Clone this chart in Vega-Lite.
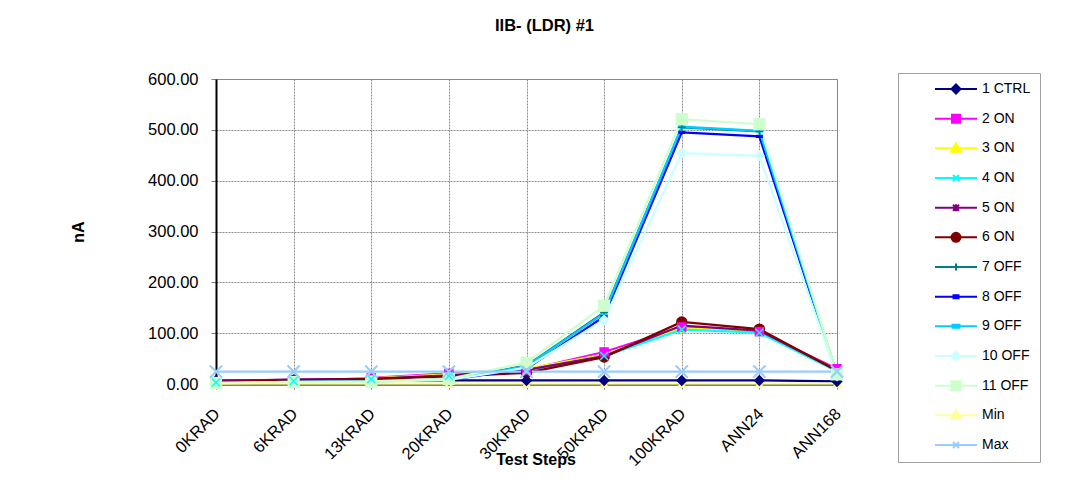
{
  "$schema": "https://vega.github.io/schema/vega-lite/v6.json",
  "width": 621,
  "height": 305,
  "autosize": {"type": "none"},
  "padding": {"left": 216, "top": 79, "right": 243, "bottom": 117},
  "background": "white",
  "title": {"text": "IIB- (LDR) #1", "fontSize": 16.5, "fontWeight": "bold", "font": "Liberation Sans", "anchor": "middle", "frame": "group", "offset": 37, "dx": 18, "color": "#000000"},
  "config": {
    "font": "Liberation Sans",
    "view": {"stroke": "#808080", "strokeWidth": 1},
    "axis": {"labelColor": "#000000", "titleColor": "#000000", "domain": true, "domainColor": "#000000", "domainWidth": 2, "tickColor": "#808080", "gridColor": "#8c8c8c", "gridDash": [2, 1], "gridWidth": 1}
  },
  "data": {"values": [
    {"series": "1 CTRL", "step": "0KRAD", "value": 7}, {"series": "1 CTRL", "step": "6KRAD", "value": 7}, {"series": "1 CTRL", "step": "13KRAD", "value": 7}, {"series": "1 CTRL", "step": "20KRAD", "value": 7}, {"series": "1 CTRL", "step": "30KRAD", "value": 7}, {"series": "1 CTRL", "step": "50KRAD", "value": 7}, {"series": "1 CTRL", "step": "100KRAD", "value": 7}, {"series": "1 CTRL", "step": "ANN24", "value": 7}, {"series": "1 CTRL", "step": "ANN168", "value": 5},
    {"series": "2 ON", "step": "0KRAD", "value": 3}, {"series": "2 ON", "step": "6KRAD", "value": 5}, {"series": "2 ON", "step": "13KRAD", "value": 12}, {"series": "2 ON", "step": "20KRAD", "value": 21}, {"series": "2 ON", "step": "30KRAD", "value": 28}, {"series": "2 ON", "step": "50KRAD", "value": 63}, {"series": "2 ON", "step": "100KRAD", "value": 112}, {"series": "2 ON", "step": "ANN24", "value": 103}, {"series": "2 ON", "step": "ANN168", "value": 30},
    {"series": "3 ON", "step": "0KRAD", "value": 2}, {"series": "3 ON", "step": "6KRAD", "value": 6}, {"series": "3 ON", "step": "13KRAD", "value": 11}, {"series": "3 ON", "step": "20KRAD", "value": 19}, {"series": "3 ON", "step": "30KRAD", "value": 30}, {"series": "3 ON", "step": "50KRAD", "value": 58}, {"series": "3 ON", "step": "100KRAD", "value": 110}, {"series": "3 ON", "step": "ANN24", "value": 104}, {"series": "3 ON", "step": "ANN168", "value": 27},
    {"series": "4 ON", "step": "0KRAD", "value": 3}, {"series": "4 ON", "step": "6KRAD", "value": 6}, {"series": "4 ON", "step": "13KRAD", "value": 10}, {"series": "4 ON", "step": "20KRAD", "value": 16}, {"series": "4 ON", "step": "30KRAD", "value": 27}, {"series": "4 ON", "step": "50KRAD", "value": 55}, {"series": "4 ON", "step": "100KRAD", "value": 107}, {"series": "4 ON", "step": "ANN24", "value": 101}, {"series": "4 ON", "step": "ANN168", "value": 25},
    {"series": "5 ON", "step": "0KRAD", "value": 5}, {"series": "5 ON", "step": "6KRAD", "value": 9}, {"series": "5 ON", "step": "13KRAD", "value": 10}, {"series": "5 ON", "step": "20KRAD", "value": 17}, {"series": "5 ON", "step": "30KRAD", "value": 28}, {"series": "5 ON", "step": "50KRAD", "value": 55}, {"series": "5 ON", "step": "100KRAD", "value": 115}, {"series": "5 ON", "step": "ANN24", "value": 105}, {"series": "5 ON", "step": "ANN168", "value": 27},
    {"series": "6 ON", "step": "0KRAD", "value": 3}, {"series": "6 ON", "step": "6KRAD", "value": 7}, {"series": "6 ON", "step": "13KRAD", "value": 10}, {"series": "6 ON", "step": "20KRAD", "value": 15}, {"series": "6 ON", "step": "30KRAD", "value": 22}, {"series": "6 ON", "step": "50KRAD", "value": 53}, {"series": "6 ON", "step": "100KRAD", "value": 122}, {"series": "6 ON", "step": "ANN24", "value": 108}, {"series": "6 ON", "step": "ANN168", "value": 26},
    {"series": "7 OFF", "step": "0KRAD", "value": 2}, {"series": "7 OFF", "step": "6KRAD", "value": 4}, {"series": "7 OFF", "step": "13KRAD", "value": 5}, {"series": "7 OFF", "step": "20KRAD", "value": 9}, {"series": "7 OFF", "step": "30KRAD", "value": 36}, {"series": "7 OFF", "step": "50KRAD", "value": 141}, {"series": "7 OFF", "step": "100KRAD", "value": 505}, {"series": "7 OFF", "step": "ANN24", "value": 497}, {"series": "7 OFF", "step": "ANN168", "value": 18},
    {"series": "8 OFF", "step": "0KRAD", "value": 2}, {"series": "8 OFF", "step": "6KRAD", "value": 4}, {"series": "8 OFF", "step": "13KRAD", "value": 5}, {"series": "8 OFF", "step": "20KRAD", "value": 8}, {"series": "8 OFF", "step": "30KRAD", "value": 30}, {"series": "8 OFF", "step": "50KRAD", "value": 133}, {"series": "8 OFF", "step": "100KRAD", "value": 495}, {"series": "8 OFF", "step": "ANN24", "value": 487}, {"series": "8 OFF", "step": "ANN168", "value": 17},
    {"series": "9 OFF", "step": "0KRAD", "value": 2}, {"series": "9 OFF", "step": "6KRAD", "value": 4}, {"series": "9 OFF", "step": "13KRAD", "value": 5}, {"series": "9 OFF", "step": "20KRAD", "value": 9}, {"series": "9 OFF", "step": "30KRAD", "value": 35}, {"series": "9 OFF", "step": "50KRAD", "value": 139}, {"series": "9 OFF", "step": "100KRAD", "value": 506}, {"series": "9 OFF", "step": "ANN24", "value": 498}, {"series": "9 OFF", "step": "ANN168", "value": 18},
    {"series": "10 OFF", "step": "0KRAD", "value": 1}, {"series": "10 OFF", "step": "6KRAD", "value": 3}, {"series": "10 OFF", "step": "13KRAD", "value": 4}, {"series": "10 OFF", "step": "20KRAD", "value": 8}, {"series": "10 OFF", "step": "30KRAD", "value": 32}, {"series": "10 OFF", "step": "50KRAD", "value": 126}, {"series": "10 OFF", "step": "100KRAD", "value": 454}, {"series": "10 OFF", "step": "ANN24", "value": 449}, {"series": "10 OFF", "step": "ANN168", "value": 16},
    {"series": "11 OFF", "step": "0KRAD", "value": 2}, {"series": "11 OFF", "step": "6KRAD", "value": 4}, {"series": "11 OFF", "step": "13KRAD", "value": 5}, {"series": "11 OFF", "step": "20KRAD", "value": 10}, {"series": "11 OFF", "step": "30KRAD", "value": 42}, {"series": "11 OFF", "step": "50KRAD", "value": 154}, {"series": "11 OFF", "step": "100KRAD", "value": 521}, {"series": "11 OFF", "step": "ANN24", "value": 511}, {"series": "11 OFF", "step": "ANN168", "value": 19},
    {"series": "Min", "step": "0KRAD", "value": 0.5}, {"series": "Min", "step": "6KRAD", "value": 0.5}, {"series": "Min", "step": "13KRAD", "value": 0.5}, {"series": "Min", "step": "20KRAD", "value": 0.5}, {"series": "Min", "step": "30KRAD", "value": 0.5}, {"series": "Min", "step": "50KRAD", "value": 0.5}, {"series": "Min", "step": "100KRAD", "value": 0.5}, {"series": "Min", "step": "ANN24", "value": 0.5}, {"series": "Min", "step": "ANN168", "value": 0.5},
    {"series": "Max", "step": "0KRAD", "value": 24.5}, {"series": "Max", "step": "6KRAD", "value": 24.5}, {"series": "Max", "step": "13KRAD", "value": 24.5}, {"series": "Max", "step": "20KRAD", "value": 24.5}, {"series": "Max", "step": "30KRAD", "value": 24.5}, {"series": "Max", "step": "50KRAD", "value": 24.5}, {"series": "Max", "step": "100KRAD", "value": 24.5}, {"series": "Max", "step": "ANN24", "value": 24.5}, {"series": "Max", "step": "ANN168", "value": 24.5}
  ]},
  "encoding": {
    "x": {"field": "step", "type": "ordinal",
      "scale": {"type": "point", "padding": 0, "domain": ["0KRAD", "6KRAD", "13KRAD", "20KRAD", "30KRAD", "50KRAD", "100KRAD", "ANN24", "ANN168"]},
      "axis": {"title": "Test Steps", "titleFontSize": 16, "titleFontWeight": "bold", "titleX": 319.5, "titleY": 75, "titleBaseline": "middle", "titleAlign": "center",
        "labelAngle": -45, "labelAlign": "right", "labelBaseline": "middle", "labelFontSize": 16.5, "labelPadding": 22, "labelOffset": 1, "labelOverlap": false, "labelFlush": false, "tickSize": 5, "grid": true,
        "gridOpacity": {"condition": {"test": "datum.value === '0KRAD'", "value": 0}, "value": 1}}},
    "y": {"field": "value", "type": "quantitative",
      "scale": {"domain": [0, 600], "nice": false, "zero": true},
      "axis": {"title": "nA", "values": [0, 100, 200, 300, 400, 500, 600], "format": ".2f", "labelFontSize": 16.5, "labelPadding": 13, "tickSize": 5,
        "titleFontSize": 16, "titleFontWeight": "bold", "titleX": -138, "titleY": 152.5, "titleAngle": -90, "titleBaseline": "middle", "titleAlign": "center", "grid": true,
        "gridOpacity": {"condition": {"test": "datum.value === 0", "value": 0}, "value": 1}}},
    "color": {"field": "series", "type": "nominal",
      "scale": {"domain": ["1 CTRL", "2 ON", "3 ON", "4 ON", "5 ON", "6 ON", "7 OFF", "8 OFF", "9 OFF", "10 OFF", "11 OFF", "Min", "Max"],
        "range": ["#000080", "#FF00FF", "#FFFF00", "#00FFFF", "#800080", "#800000", "#008080", "#0000FF", "#00CCFF", "#CCFFFF", "#CCFFCC", "#FFFF99", "#99CCFF"]},
      "legend": {"title": null, "orient": "none", "legendX": 682, "legendY": -6, "padding": 9,
        "strokeColor": "#a0a0a0", "fillColor": "#ffffff", "symbolSize": 4900, "symbolStrokeWidth": 2, "symbolOpacity": 1, "clipHeight": 14,
        "labelFontSize": 14, "labelFont": "Liberation Sans", "labelColor": "#000000", "labelOffset": 3, "rowPadding": 15.67, "labelLimit": 300,
        "labelExpr": "datum.label + '\u00a0\u00a0\u00a0\u00a0\u00a0\u00a0\u00a0\u00a0'"}}
  },
  "layer": [
    {"mark": {"type": "line", "strokeWidth": 2.25}},
    {"transform": [{"filter": {"field": "series", "oneOf": ["8 OFF", "9 OFF"]}}],
     "mark": {"type": "point", "shape": "M-1,-0.45H1V0.45H-1Z", "filled": true, "opacity": 1, "size": 49}},
    {"transform": [{"filter": {"field": "series", "oneOf": ["7 OFF"]}}],
     "mark": {"type": "point", "shape": "M-1,0H1M0,-1V1", "filled": false, "opacity": 1, "size": 64, "strokeWidth": 1.5}},
    {"transform": [{"filter": {"field": "series", "oneOf": ["5 ON"]}}],
     "mark": {"type": "point", "shape": "M-1,-1L1,1M-1,1L1,-1M0,-1.2V1.2", "filled": false, "opacity": 1, "size": 64, "strokeWidth": 1.5}},
    {"transform": [{"filter": {"field": "series", "oneOf": ["3 ON", "Min"]}}],
     "mark": {"type": "point", "shape": "triangle-up", "filled": true, "opacity": 1, "size": 100}},
    {"transform": [{"filter": {"field": "series", "oneOf": ["6 ON"]}}],
     "mark": {"type": "point", "shape": "circle", "filled": true, "opacity": 1, "size": 130}},
    {"transform": [{"filter": {"field": "series", "oneOf": ["1 CTRL", "10 OFF"]}}],
     "mark": {"type": "point", "shape": "diamond", "filled": true, "opacity": 1, "size": 130}},
    {"transform": [{"filter": {"field": "series", "oneOf": ["2 ON"]}}],
     "mark": {"type": "point", "shape": "square", "filled": true, "opacity": 1, "size": 90}},
    {"transform": [{"filter": {"field": "series", "oneOf": ["11 OFF"]}}],
     "mark": {"type": "point", "shape": "square", "filled": true, "opacity": 1, "size": 150}},
    {"transform": [{"filter": {"field": "series", "oneOf": ["4 ON"]}}],
     "mark": {"type": "point", "shape": "M-1,-1L1,1M-1,1L1,-1", "filled": false, "opacity": 1, "size": 64, "strokeWidth": 1.5}},
    {"transform": [{"filter": {"field": "series", "oneOf": ["Max"]}}],
     "mark": {"type": "point", "shape": "M-1,-1L1,1M-1,1L1,-1", "filled": false, "opacity": 1, "size": 150, "strokeWidth": 2}},
    {"mark": {"type": "point", "filled": true, "opacity": 0, "size": 4900, "strokeWidth": 2},
     "encoding": {
       "shape": {"field": "series", "type": "nominal",
         "scale": {
           "domain": ["1 CTRL", "2 ON", "3 ON", "4 ON", "5 ON", "6 ON", "7 OFF", "8 OFF", "9 OFF", "10 OFF", "11 OFF", "Min", "Max"],
           "range": [
             "M-0.229,0H0.971M0.371,-0.129L0.5,0L0.371,0.129L0.242,0Z",
             "M-0.229,0H0.971M0.257,-0.114H0.485V0.114H0.257Z",
             "M-0.229,0H0.971M0.371,-0.143L0.514,0.1H0.228Z",
             "M-0.229,0H0.971M0.285,-0.086L0.457,0.086M0.285,0.086L0.457,-0.086",
             "M-0.229,0H0.971M0.285,-0.086L0.457,0.086M0.285,0.086L0.457,-0.086M0.371,-0.1V0.1",
             "M-0.229,0H0.971M0.242,0A0.129,0.129,0,1,0,0.5,0A0.129,0.129,0,1,0,0.242,0Z",
             "M-0.229,0H0.971M0.371,-0.1V0.1",
             "M-0.229,0H0.971M0.3,-0.043H0.442V0.043H0.3Z",
             "M-0.229,0H0.971M0.271,-0.043H0.471V0.043H0.271Z",
             "M-0.229,0H0.971M0.371,-0.129L0.5,0L0.371,0.129L0.242,0Z",
             "M-0.229,0H0.971M0.242,-0.129H0.5V0.129H0.242Z",
             "M-0.229,0H0.971M0.371,-0.143L0.514,0.1H0.228Z",
             "M-0.229,0H0.971M0.285,-0.086L0.457,0.086M0.285,0.086L0.457,-0.086"
           ]},
         "legend": {"title": null, "orient": "none", "legendX": 682, "legendY": -6, "padding": 9,
           "strokeColor": "#a0a0a0", "fillColor": "#ffffff", "symbolSize": 4900, "symbolStrokeWidth": 2, "symbolOpacity": 1, "clipHeight": 14,
           "labelFontSize": 14, "labelFont": "Liberation Sans", "labelColor": "#000000", "labelOffset": 3, "rowPadding": 15.67, "labelLimit": 300,
           "labelExpr": "datum.label + '\u00a0\u00a0\u00a0\u00a0\u00a0\u00a0\u00a0\u00a0'"}}
     }}
  ]
}
